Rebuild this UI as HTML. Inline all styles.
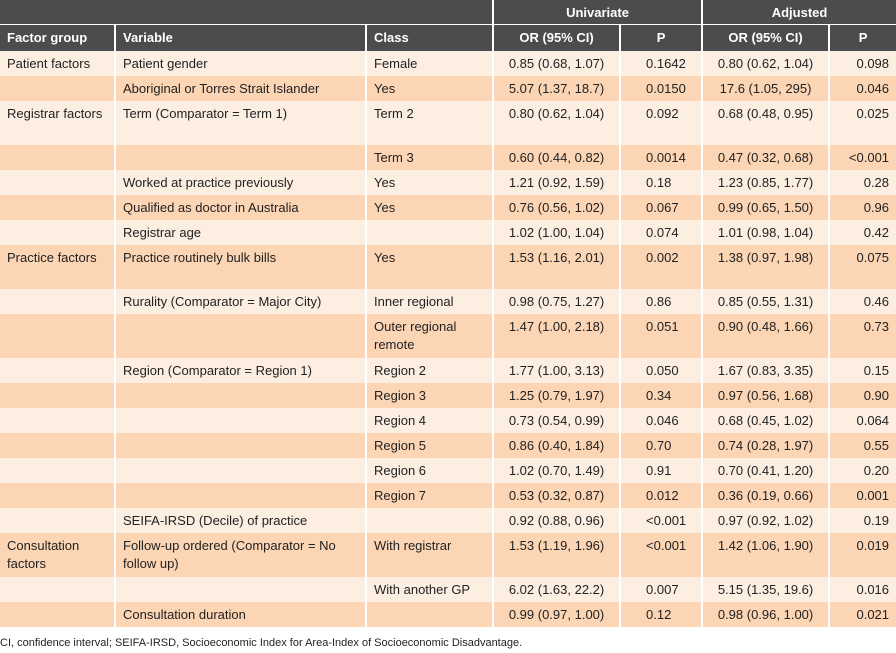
<!DOCTYPE html>
<html><head><meta charset="utf-8"><style>
body{margin:0;width:896px;height:653px;background:#fff;font-family:"Liberation Sans",Arial,sans-serif;font-size:13px;color:#222;overflow:hidden}
table{border-collapse:separate;border-spacing:0;table-layout:fixed;width:896px}
td,th{padding:4px 7px 0 7px;vertical-align:top;border-left:2px solid #fff;line-height:18px;box-sizing:border-box}
td:first-child,th:first-child{border-left:none}
th{background:#4b4c4e;color:#fff;font-weight:bold;text-align:left}
tr.h1 th{height:25px;text-align:center;border-bottom:1px solid #fff}
tr.h2 th{height:26px}
tr.l td{background:#fdeee2}
tr.d td{background:#fcd5b5}
tr td{height:25px}
tr.t td{height:44px}
.c{text-align:center}
.p{padding-left:25px}
.r{text-align:right}
.foot{position:absolute;left:0;top:637px;font-size:11px;color:#222}
</style></head><body>
<table>
<colgroup><col style="width:114px"><col style="width:251px"><col style="width:127px"><col style="width:127px"><col style="width:82px"><col style="width:127px"><col style="width:68px"></colgroup>
<tr class="h1"><th colspan="3"></th><th colspan="2">Univariate</th><th colspan="2">Adjusted</th></tr>
<tr class="h2"><th>Factor group</th><th>Variable</th><th>Class</th><th class="c">OR (95% CI)</th><th class="c">P</th><th class="c">OR (95% CI)</th><th class="c">P</th></tr>
<tr class="l"><td>Patient factors</td><td>Patient gender</td><td>Female</td><td class="c">0.85 (0.68, 1.07)</td><td class="p">0.1642</td><td class="c">0.80 (0.62, 1.04)</td><td class="r">0.098</td></tr>
<tr class="d"><td></td><td>Aboriginal or Torres Strait Islander</td><td>Yes</td><td class="c">5.07 (1.37, 18.7)</td><td class="p">0.0150</td><td class="c">17.6 (1.05, 295)</td><td class="r">0.046</td></tr>
<tr class="l t"><td>Registrar factors</td><td>Term (Comparator = Term 1)</td><td>Term 2</td><td class="c">0.80 (0.62, 1.04)</td><td class="p">0.092</td><td class="c">0.68 (0.48, 0.95)</td><td class="r">0.025</td></tr>
<tr class="d"><td></td><td></td><td>Term 3</td><td class="c">0.60 (0.44, 0.82)</td><td class="p">0.0014</td><td class="c">0.47 (0.32, 0.68)</td><td class="r">&lt;0.001</td></tr>
<tr class="l"><td></td><td>Worked at practice previously</td><td>Yes</td><td class="c">1.21 (0.92, 1.59)</td><td class="p">0.18</td><td class="c">1.23 (0.85, 1.77)</td><td class="r">0.28</td></tr>
<tr class="d"><td></td><td>Qualified as doctor in Australia</td><td>Yes</td><td class="c">0.76 (0.56, 1.02)</td><td class="p">0.067</td><td class="c">0.99 (0.65, 1.50)</td><td class="r">0.96</td></tr>
<tr class="l"><td></td><td>Registrar age</td><td></td><td class="c">1.02 (1.00, 1.04)</td><td class="p">0.074</td><td class="c">1.01 (0.98, 1.04)</td><td class="r">0.42</td></tr>
<tr class="d t"><td>Practice factors</td><td>Practice routinely bulk bills</td><td>Yes</td><td class="c">1.53 (1.16, 2.01)</td><td class="p">0.002</td><td class="c">1.38 (0.97, 1.98)</td><td class="r">0.075</td></tr>
<tr class="l"><td></td><td>Rurality (Comparator = Major City)</td><td>Inner regional</td><td class="c">0.98 (0.75, 1.27)</td><td class="p">0.86</td><td class="c">0.85 (0.55, 1.31)</td><td class="r">0.46</td></tr>
<tr class="d t"><td></td><td></td><td>Outer regional remote</td><td class="c">1.47 (1.00, 2.18)</td><td class="p">0.051</td><td class="c">0.90 (0.48, 1.66)</td><td class="r">0.73</td></tr>
<tr class="l"><td></td><td>Region (Comparator = Region 1)</td><td>Region 2</td><td class="c">1.77 (1.00, 3.13)</td><td class="p">0.050</td><td class="c">1.67 (0.83, 3.35)</td><td class="r">0.15</td></tr>
<tr class="d"><td></td><td></td><td>Region 3</td><td class="c">1.25 (0.79, 1.97)</td><td class="p">0.34</td><td class="c">0.97 (0.56, 1.68)</td><td class="r">0.90</td></tr>
<tr class="l"><td></td><td></td><td>Region 4</td><td class="c">0.73 (0.54, 0.99)</td><td class="p">0.046</td><td class="c">0.68 (0.45, 1.02)</td><td class="r">0.064</td></tr>
<tr class="d"><td></td><td></td><td>Region 5</td><td class="c">0.86 (0.40, 1.84)</td><td class="p">0.70</td><td class="c">0.74 (0.28, 1.97)</td><td class="r">0.55</td></tr>
<tr class="l"><td></td><td></td><td>Region 6</td><td class="c">1.02 (0.70, 1.49)</td><td class="p">0.91</td><td class="c">0.70 (0.41, 1.20)</td><td class="r">0.20</td></tr>
<tr class="d"><td></td><td></td><td>Region 7</td><td class="c">0.53 (0.32, 0.87)</td><td class="p">0.012</td><td class="c">0.36 (0.19, 0.66)</td><td class="r">0.001</td></tr>
<tr class="l"><td></td><td>SEIFA-IRSD (Decile) of practice</td><td></td><td class="c">0.92 (0.88, 0.96)</td><td class="p">&lt;0.001</td><td class="c">0.97 (0.92, 1.02)</td><td class="r">0.19</td></tr>
<tr class="d t"><td>Consultation factors</td><td>Follow-up ordered (Comparator = No follow up)</td><td>With registrar</td><td class="c">1.53 (1.19, 1.96)</td><td class="p">&lt;0.001</td><td class="c">1.42 (1.06, 1.90)</td><td class="r">0.019</td></tr>
<tr class="l"><td></td><td></td><td>With another GP</td><td class="c">6.02 (1.63, 22.2)</td><td class="p">0.007</td><td class="c">5.15 (1.35, 19.6)</td><td class="r">0.016</td></tr>
<tr class="d"><td></td><td>Consultation duration</td><td></td><td class="c">0.99 (0.97, 1.00)</td><td class="p">0.12</td><td class="c">0.98 (0.96, 1.00)</td><td class="r">0.021</td></tr>
</table>
<div class="foot">CI, confidence interval; SEIFA-IRSD, Socioeconomic Index for Area-Index of Socioeconomic Disadvantage.</div>
</body></html>
